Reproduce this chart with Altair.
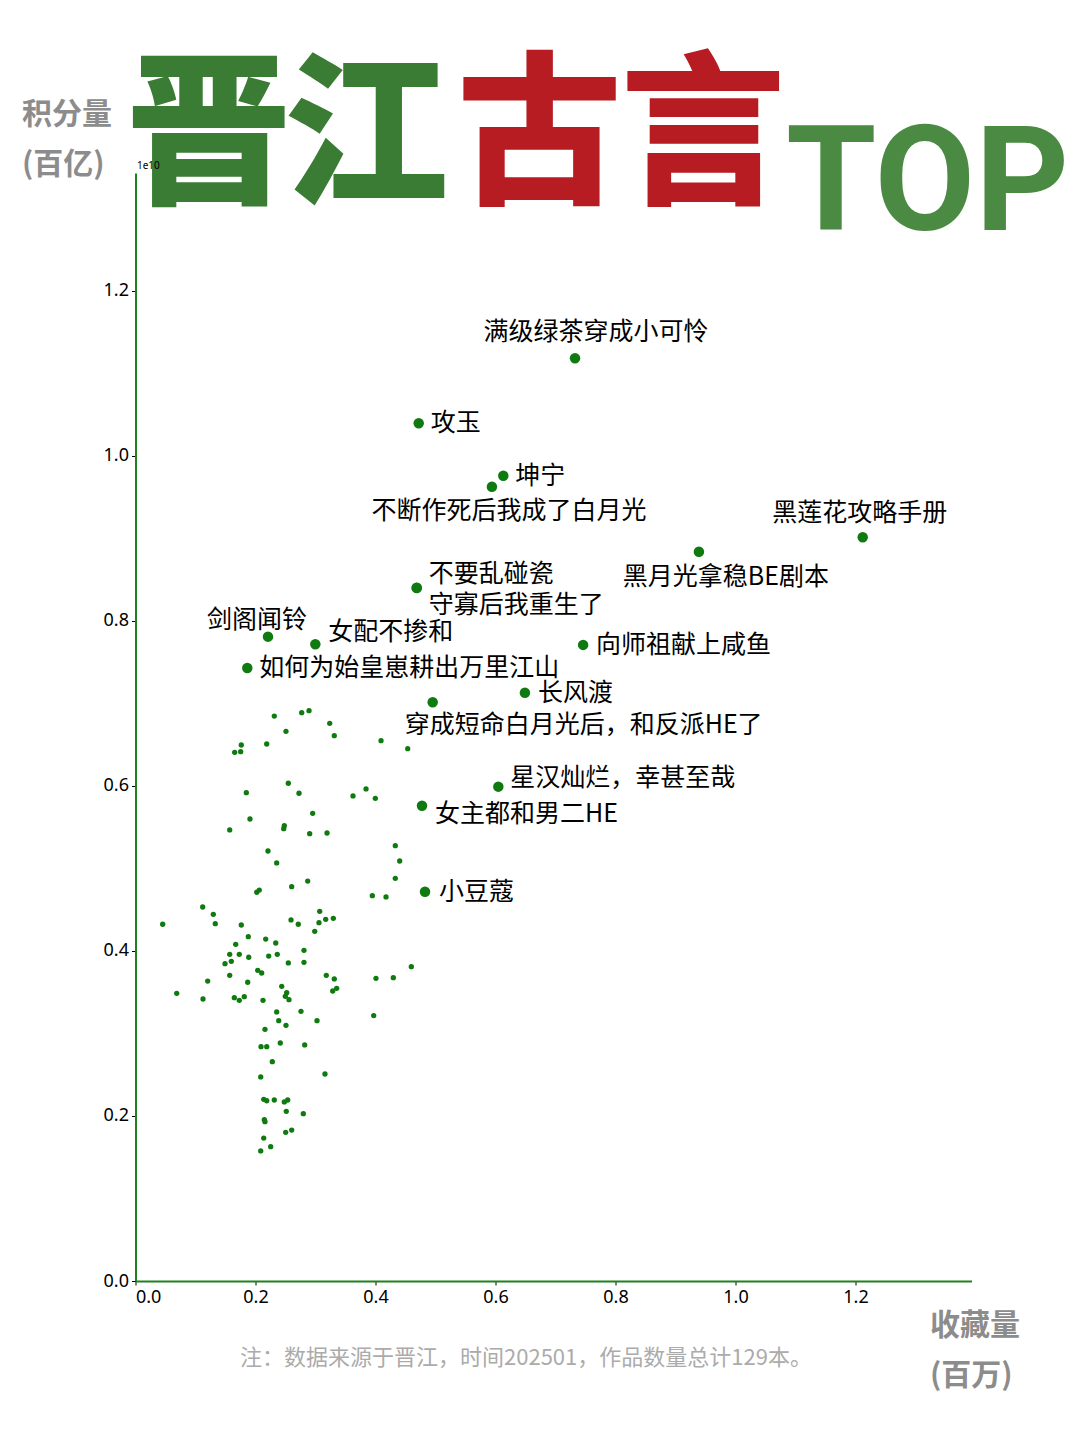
import altair as alt
import pandas as pd

# ---------------- data ----------------
# x: 收藏量 (百万), y: 积分量 (1e10)
label_names = [
    "满级绿茶穿成小可怜", "攻玉", "坤宁", "不断作死后我成了白月光", "黑莲花攻略手册",
    "黑月光拿稳BE剧本", "向师祖献上咸鱼", "不要乱碰瓷", "守寡后我重生了", "剑阁闻铃",
    "女配不掺和", "如何为始皇崽耕出万里江山", "长风渡", "穿成短命白月光后，和反派HE了",
    "星汉灿烂，幸甚至哉", "女主都和男二HE", "小豆蔻",
]
label_x = [0.7325, 0.472, 0.613, 0.594, 1.212, 0.939, 0.746, 0.4687, 0.4687, 0.2208,
           0.2997, 0.1863, 0.649, 0.4953, 0.6047, 0.4775, 0.4825]
label_y = [1.1184, 1.0396, 0.976, 0.9627, 0.9014, 0.884, 0.771, 0.8404, 0.8400, 0.781,
           0.7718, 0.743, 0.713, 0.7015, 0.5992, 0.5761, 0.4719]

small_x = [0.2313, 0.277, 0.2892, 0.3237, 0.2508, 0.3313, 0.1763, 0.1653, 0.1753, 0.2187,
           0.4092, 0.4537, 0.2547, 0.1847, 0.2725, 0.3625, 0.3842, 0.3997, 0.2953, 0.1908,
           0.157, 0.248, 0.247, 0.2903, 0.3192, 0.433, 0.4403, 0.433, 0.2208, 0.2353,
           0.2603, 0.287, 0.202, 0.2063, 0.3947, 0.4175, 0.112, 0.1297, 0.133, 0.0453,
           0.1763, 0.2592, 0.2713, 0.307, 0.3058, 0.317, 0.3297, 0.2987, 0.188, 0.217,
           0.2337, 0.167, 0.2808, 0.157, 0.173, 0.2363, 0.222, 0.1887, 0.1597, 0.1492,
           0.2547, 0.2808, 0.2037, 0.2103, 0.157, 0.318, 0.3313, 0.4008, 0.4297, 0.4597,
           0.1203, 0.187, 0.2437, 0.0687, 0.3287, 0.3353, 0.252, 0.2497, 0.2558, 0.1125,
           0.1647, 0.173, 0.1813, 0.2125, 0.2353, 0.2758, 0.2387, 0.2508, 0.3025, 0.397,
           0.2158, 0.2092, 0.2187, 0.2413, 0.282, 0.228, 0.3158, 0.2087, 0.2137, 0.2187,
           0.2313, 0.248, 0.2537, 0.2513, 0.2797, 0.2147, 0.2158, 0.2503, 0.2603, 0.2137,
           0.2253, 0.2087]
small_y = [0.6848, 0.6888, 0.6913, 0.676, 0.6663, 0.661, 0.6497, 0.6408, 0.6416, 0.6509,
           0.6549, 0.6452, 0.6033, 0.5919, 0.5912, 0.5879, 0.5964, 0.5851, 0.5669, 0.56,
           0.5467, 0.5519, 0.5482, 0.5422, 0.543, 0.5276, 0.5091, 0.4881, 0.5212, 0.5067,
           0.4779, 0.4848, 0.4712, 0.4739, 0.467, 0.4655, 0.4533, 0.4445, 0.4331, 0.4324,
           0.4315, 0.4376, 0.4324, 0.4481, 0.4343, 0.4384, 0.4396, 0.4239, 0.4173, 0.4145,
           0.4097, 0.4081, 0.4008, 0.396, 0.396, 0.396, 0.3939, 0.3924, 0.3875, 0.3846,
           0.3855, 0.3863, 0.3766, 0.3733, 0.3705, 0.3705, 0.3661, 0.3669, 0.3676, 0.381,
           0.3636, 0.3621, 0.3572, 0.3487, 0.3515, 0.3548, 0.3495, 0.3451, 0.341, 0.3418,
           0.3434, 0.3402, 0.3446, 0.3402, 0.3261, 0.3269, 0.3155, 0.3099, 0.3155, 0.3216,
           0.3051, 0.284, 0.284, 0.2885, 0.2861, 0.2658, 0.2509, 0.2473, 0.2202, 0.2185,
           0.2194, 0.217, 0.2194, 0.2057, 0.2028, 0.1955, 0.1931, 0.1802, 0.183, 0.1733,
           0.1628, 0.1576]

tick_values = [0.0, 0.2, 0.4, 0.6, 0.8, 1.0, 1.2]

# label placement (align, dx, dy) relative to the dot
label_place = {
    "满级绿茶穿成小可怜": ("center", 21, -26),
    "攻玉": ("left", 12, 0),
    "坤宁": ("left", 12, 0),
    "不断作死后我成了白月光": ("center", 17, 24),
    "黑莲花攻略手册": ("center", -3, -24),
    "黑月光拿稳BE剧本": ("center", 27, 25),
    "向师祖献上咸鱼": ("left", 13, 0),
    "不要乱碰瓷": ("left", 12, -14),
    "守寡后我重生了": ("left", 12, 17),
    "剑阁闻铃": ("center", -11, -17),
    "女配不掺和": ("left", 13, -12),
    "如何为始皇崽耕出万里江山": ("left", 12, 0),
    "长风渡": ("left", 13, 0),
    "穿成短命白月光后，和反派HE了": ("left", -28, 23),
    "星汉灿烂，幸甚至哉": ("left", 12, -9),
    "女主都和男二HE": ("left", 13, 8),
    "小豆蔻": ("left", 14, 0),
}

df_small = pd.DataFrame({"x": small_x, "y": small_y})
df_lab = pd.DataFrame({"name": label_names, "x": label_x, "y": label_y})

# ---------------- styling ----------------
G = "#0f7a0f"
CJK = "Noto Sans CJK SC"
W, H = 836, 1108
OX, OY = 135.5, 173  # page position of plot origin

xs = alt.Scale(domain=[0, 1.3933], nice=False, zero=True)
ys = alt.Scale(domain=[0, 1.343], nice=False, zero=True)
axis_kw = dict(values=tick_values, format=".1f", title=None, grid=False,
               domainColor="#1e821e", domainWidth=2, tickColor="black", tickSize=4,
               tickWidth=1, labelFontSize=18, labelFont="Noto Sans", labelColor="black",
               labelPadding=3)
X = alt.X("x:Q", scale=xs, axis=alt.Axis(**axis_kw))
Y = alt.Y("y:Q", scale=ys, axis=alt.Axis(**axis_kw))

layers = []
layers.append(alt.Chart(df_small).mark_circle(size=28, color=G, opacity=1).encode(x=X, y=Y))
layers.append(alt.Chart(df_lab).mark_circle(size=110, color=G, opacity=1).encode(x=X, y=Y))

for n in label_names:
    a, dx, dy = label_place[n]
    layers.append(
        alt.Chart(df_lab)
        .transform_filter(alt.FieldEqualPredicate(field="name", equal=n))
        .mark_text(align=a, baseline="middle", dx=dx, dy=dy, fontSize=25, font=CJK,
                   color="black")
        .encode(x=X, y=Y, text="name:N")
    )


def static_text(txt, px, py, **kw):
    return alt.Chart(alt.Data(values=[{}])).mark_text(text=txt, **kw).encode(
        x=alt.value(px - OX), y=alt.value(py - OY))


# big title
for ch, cx, col in [("晋", 208.5, "#3a7c34"), ("江", 366, "#3a7c34"),
                    ("古", 539.5, "#b61c22"), ("言", 703, "#b61c22")]:
    layers.append(static_text(ch, cx, 191, align="center", baseline="alphabetic",
                              fontSize=165, font=CJK, fontWeight=900, color=col))
layers.append(static_text("TOP", 786, 230, align="left", baseline="alphabetic", fontSize=146,
                          font="Roboto", fontWeight="bold", color="#4a8a42"))

# axis titles & notes
layers.append(static_text("积分量", 22, 115, align="left", baseline="middle", fontSize=30,
                          font=CJK, fontWeight="bold", color="#8c8c8c"))
layers.append(static_text("(百亿)", 22, 165, align="left", baseline="middle", fontSize=30,
                          font=CJK, fontWeight="bold", color="#8c8c8c"))
layers.append(static_text("收藏量", 930, 1326, align="left", baseline="middle", fontSize=30,
                          font=CJK, fontWeight="bold", color="#8c8c8c"))
layers.append(static_text("(百万)", 930, 1376, align="left", baseline="middle", fontSize=30,
                          font=CJK, fontWeight="bold", color="#8c8c8c"))
layers.append(static_text("1e10", 137, 166, align="left", baseline="middle", fontSize=10,
                          font="Noto Sans", color="black"))
layers.append(static_text("注：数据来源于晋江，时间202501，作品数量总计129本。", 240, 1358,
                          align="left", baseline="middle", fontSize=22, font=CJK,
                          color="#ababab"))

chart = alt.layer(*layers).properties(
    width=W, height=H,
    autosize=alt.AutoSizeParams(type="none"),
    padding={"left": OX - 8, "top": OY - 8, "right": 100, "bottom": 140},
    background="white",
).configure_view(stroke=None)

chart.save("out.html", embed_options={"renderer": "svg", "actions": False})
